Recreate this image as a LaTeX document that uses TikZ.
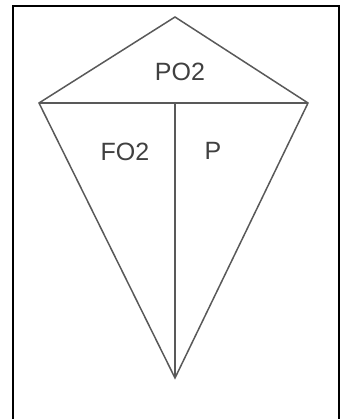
\documentclass[tikz,border=0pt]{standalone}
\usepackage{fontspec}
\setmainfont{Liberation Sans}
\usepackage{tikz}

\begin{document}
\begin{tikzpicture}[x=1pt,y=-1pt,kline/.style={draw=black!65,line width=1.5pt,line join=miter},lbl/.style={text=black!75,font=\fontsize{25}{28}\selectfont,inner sep=0pt}]
\useasboundingbox (0,0) rectangle (346,419);
\draw[line width=2.6pt] (13,425) -- (13,6) -- (339,6) -- (339,425);
\coordinate (top) at (175,17);
\coordinate (lft) at (39,103);
\coordinate (rgt) at (308,103);
\coordinate (bot) at (175,378);
\coordinate (mid) at (175,103);
\draw[kline] (top) -- (rgt) -- (bot) -- (lft) -- cycle;
\draw[kline] (lft) -- (rgt);
\draw[kline] (mid) -- (bot);
\foreach \n/\x/\y/\t in %
{po/180/72/PO2,fo/125/152/FO2,p/213/151/P} {
   \node[lbl] (\n) at (\x,\y) {\t};
}
\end{tikzpicture}
\end{document}
